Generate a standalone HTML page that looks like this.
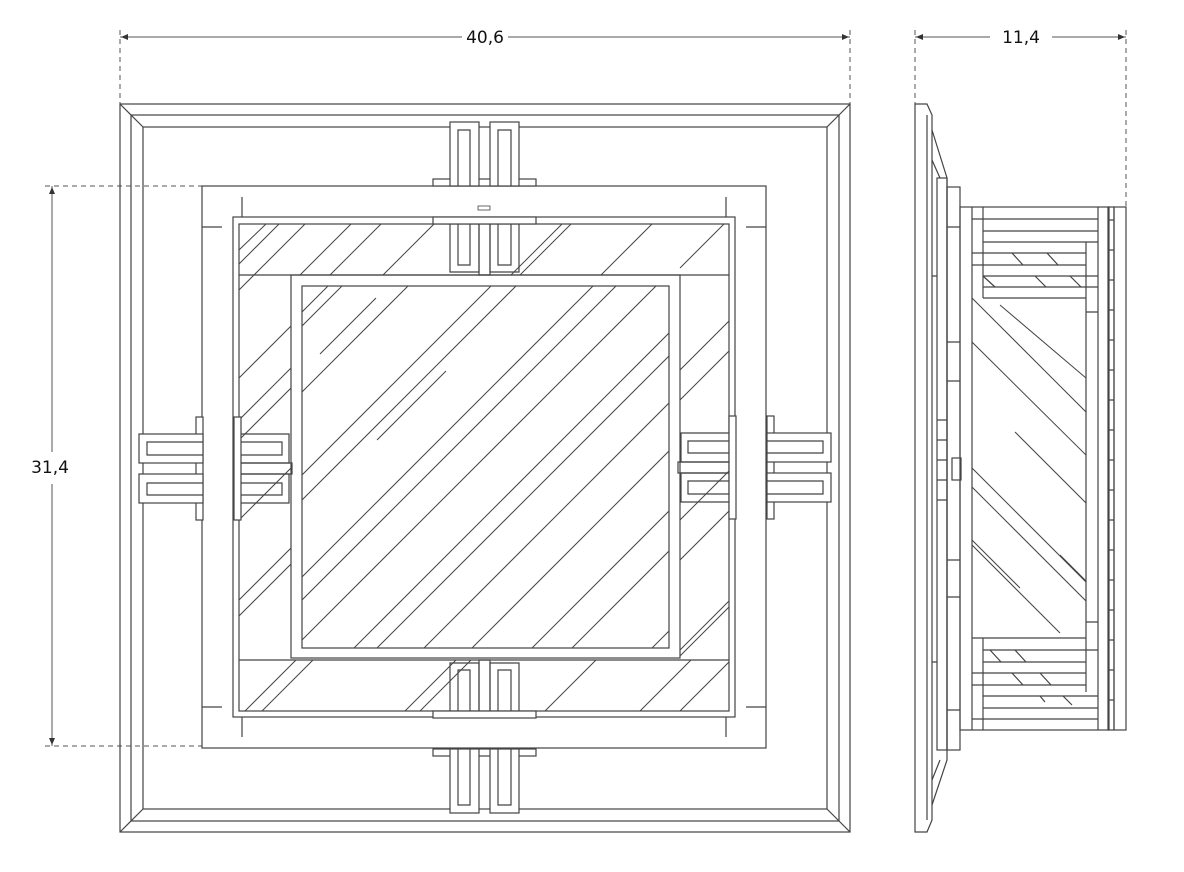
<!DOCTYPE html>
<html><head><meta charset="utf-8"><style>
html,body{margin:0;padding:0;background:#fff}
svg{display:block}
text{font-family:"DejaVu Sans","Liberation Sans",sans-serif;font-size:17px;fill:#111}
</style></head><body>
<svg width="1184" height="872" viewBox="0 0 1184 872" xmlns="http://www.w3.org/2000/svg">
<defs>
<clipPath id="band"><path d="M239 224H729V711H239Z M291 275V658H680V275Z" clip-rule="evenodd"/></clipPath>
<clipPath id="glass"><rect x="302" y="286" width="367" height="362"/></clipPath>
<clipPath id="sglass"><rect x="972" y="298" width="114" height="340"/></clipPath>
<g id="clip" fill="none" stroke="#444" stroke-width="1.2">
  <rect x="433" y="179" width="103" height="7" fill="#fff"/>
  <rect x="450" y="122" width="29" height="64" fill="#fff"/>
  <rect x="490" y="122" width="29" height="64" fill="#fff"/>
  <path d="M458 186V130H470V186M498 186V130H511V186"/>
  <path d="M450 224V272H479V224M458 224V265H470V224"/>
  <path d="M490 224V272H519V224M498 224V265H511V224"/>
  <path d="M479 224V275H490V224"/>
  <rect x="433" y="217" width="103" height="7" fill="#fff"/>
</g>
</defs>
<g fill="none" stroke="#444" stroke-width="1.2">
<g stroke="#555" stroke-width="1">
<line x1="120" y1="37" x2="462" y2="37"/><line x1="508" y1="37" x2="850" y2="37"/>
<line x1="915" y1="37" x2="990" y2="37"/><line x1="1052" y1="37" x2="1126" y2="37"/>
<line x1="52" y1="186" x2="52" y2="452"/><line x1="52" y1="484" x2="52" y2="746"/>
<g stroke-dasharray="5,4">
<line x1="120" y1="30" x2="120" y2="104"/><line x1="850" y1="30" x2="850" y2="104"/>
<line x1="915" y1="30" x2="915" y2="104"/><line x1="1126" y1="30" x2="1126" y2="207"/>
<line x1="45" y1="186" x2="202" y2="186"/><line x1="45" y1="746" x2="202" y2="746"/>
</g>
</g>
<g fill="#333" stroke="none">
<path d="M121 37l7-3v6z"/><path d="M849 37l-7-3v6z"/>
<path d="M916 37l7-3v6z"/><path d="M1125 37l-7-3v6z"/>
<path d="M52 187l-3 7h6z"/><path d="M52 745l-3-7h6z"/>
</g>
</g>
<text x="485" y="43" text-anchor="middle">40,6</text>
<text x="1021" y="43" text-anchor="middle">11,4</text>
<text x="50" y="473" text-anchor="middle">31,4</text>

<g fill="none" stroke="#444" stroke-width="1.2">
<rect x="120" y="104" width="730" height="728"/>
<rect x="131" y="115" width="708" height="706"/>
<rect x="143" y="127" width="684" height="682"/>
<path d="M120 104L143 127M850 104L827 127M120 832L143 809M850 832L827 809"/>
<rect x="202" y="186" width="564" height="562" fill="#fff"/>
<path d="M242 197V217M202 227H222M726 197V217M766 227H746M242 737V717M202 707H222M726 737V717M766 707H746"/>
<rect x="233" y="217" width="502" height="500"/>
<rect x="239" y="224" width="490" height="487"/>
<line x1="239" y1="275" x2="729" y2="275"/>
<line x1="239" y1="660" x2="729" y2="660"/>
<rect x="291" y="275" width="389" height="383"/>
<rect x="302" y="286" width="367" height="362"/>
<rect x="478" y="206" width="12" height="4" stroke-width="0.8"/>

<g clip-path="url(#band)" stroke-width="1">
<path d="M239 250L266 224M239 264L279 224M239 290L305 224M300 275L351 224M330 275L381 224M383 275L434 224M511 275L562 224M520 275L571 224M601 275L652 224M680 268L724 224"/>
<path d="M239 378L291 326M239 420L291 368M239 440L291 388M239 520L291 468M239 600L291 548M239 616L291 564"/>
<path d="M680 370L729 321M680 400L729 351M680 520L729 471M680 560L729 511M680 650L729 601M680 656L729 607"/>
<path d="M245 711L296 660M262 711L313 660M405 711L456 660M420 711L471 660M545 711L596 660M640 711L691 660M680 711L729 662"/>
</g>
<g clip-path="url(#glass)" stroke-width="1">
<path d="M302 312L328 286M302 326L342 286M302 392L408 286M320 354L376 298M302 475L491 286M302 500L516 286M377 440L446 371M302 577L593 286M302 600L616 286M302 640L656 286M530 412L600 342M302 700L716 286M325 700L739 286M372 700L786 286M420 700L834 286M480 700L894 286M520 700L934 286M600 700L1014 286"/>
</g>

<use href="#clip"/>
<use href="#clip" transform="translate(0,935) scale(1,-1)"/>
<use href="#clip" transform="rotate(-90 485 468)"/>
<use href="#clip" transform="rotate(90 485 468)"/>

<path d="M915 104H927L932 115V820L927 832H915Z"/>
<line x1="927" y1="115" x2="927" y2="820"/>
<path d="M932 130L947 178V760L932 805"/>
<path d="M932 160L940 178M932 780L940 760"/>
<rect x="937" y="178" width="10" height="572"/>
<rect x="947" y="187" width="13" height="563"/>
<path d="M947 227H960M947 342H960M947 381H960M947 560H960M947 597H960M947 710H960M932 276H937M932 662H937"/>
<path d="M937 420H947M937 440H947M937 460H947M937 480H947M937 500H947"/>
<rect x="952" y="458" width="9" height="22" fill="#fff"/>
<rect x="960" y="207" width="149" height="523"/>
<line x1="972" y1="207" x2="972" y2="730"/>
<line x1="983" y1="207" x2="983" y2="298"/>
<line x1="983" y1="638" x2="983" y2="730"/>
<line x1="1098" y1="207" x2="1098" y2="730"/>
<line x1="1086" y1="242" x2="1086" y2="692"/>
<path d="M972 219H1098M983 231H1098M983 242H1098M972 253H1086M972 265H1086M983 276H1098M983 287H1098M983 298H1086"/>
<path d="M972 638H1086M983 650H1098M983 662H1086M972 673H1086M972 685H1086M983 696H1098M983 708H1098M972 719H1098"/>
<path d="M1086 312H1098M1086 622H1098"/>
<path d="M1012 253L1023 265M1047 253L1058 265M983 276L995 287M1035 276L1046 287M1070 276L1081 287"/>
<path d="M990 650L1001 662M1015 650L1026 662M1012 673L1023 685M1040 673L1051 685M1040 696L1045 702M1063 696L1072 705"/>
<rect x="1108" y="207" width="6" height="523"/>
<rect x="1114" y="207" width="12" height="523"/>
<path d="M1108 220H1114M1108 250H1114M1108 280H1114M1108 310H1114M1108 340H1114M1108 370H1114M1108 400H1114M1108 430H1114M1108 460H1114M1108 490H1114M1108 520H1114M1108 550H1114M1108 580H1114M1108 610H1114M1108 640H1114M1108 670H1114M1108 700H1114"/>
<g clip-path="url(#sglass)" stroke-width="1">
<path d="M972 298L1098 424M1000 305L1086 378M972 342L1098 467M1015 432L1100 517M972 468L1098 594M972 487L1098 613M1060 555L1098 593M972 540L1020 588M972 545L1060 633"/>
</g>
</g>
</svg>
</body></html>
